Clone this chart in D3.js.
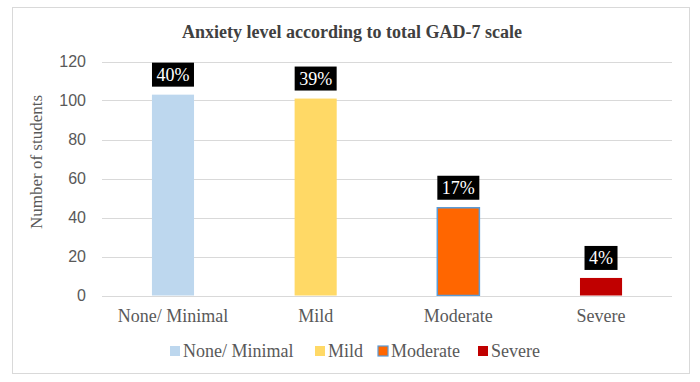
<!DOCTYPE html>
<html>
<head>
<meta charset="utf-8" />
<script src="https://d3js.org/d3.v7.min.js"></script>
<style>
  body { margin: 0; background: #fff; }
  svg { display: block; }
  .serif { font-family: "Liberation Serif", "Times New Roman", serif; }
  .sans { font-family: "Liberation Sans", Arial, sans-serif; }
</style>
</head>
<body>
<svg width="700" height="382"></svg>
<script>
// data
var categories = ["None/ Minimal", "Mild", "Moderate", "Severe"];
var students = [103, 101, 45, 9];
var percentLabels = ["40%", "39%", "17%", "4%"];
var barColors = ["#BDD7EE", "#FFD966", "#FF6600", "#C00000"];
var yTicks = [0, 20, 40, 60, 80, 100, 120];

var svg = d3.select("svg");

// outer frame
svg.append("rect")
    .attr("x", 12.5).attr("y", 7.5)
    .attr("width", 677).attr("height", 366)
    .attr("fill", "#fff")
    .attr("stroke", "#d9d9d9");

var margin = { left: 102, right: 672, top: 61.5, bottom: 295.5 };

var x = d3.scaleBand()
    .domain(categories)
    .range([margin.left, margin.right])
    .paddingInner(0.705)
    .paddingOuter(0.35);

var y = d3.scaleLinear()
    .domain([0, 120])
    .range([margin.bottom, margin.top]);

// title
svg.append("text")
    .attr("class", "serif")
    .attr("x", 352).attr("y", 38)
    .attr("text-anchor", "middle")
    .style("font-size", "18px")
    .style("font-weight", "bold")
    .attr("fill", "#404040")
    .text("Anxiety level according to total GAD-7 scale");

// gridlines
svg.append("g")
    .selectAll("line")
    .data(yTicks)
    .enter().append("line")
    .attr("x1", margin.left).attr("x2", margin.right)
    .attr("y1", function (d) { return Math.round(y(d)) + 0.5; })
    .attr("y2", function (d) { return Math.round(y(d)) + 0.5; })
    .attr("stroke", "#d9d9d9");

// y axis labels
var yAxis = svg.append("g")
    .attr("transform", "translate(" + (margin.left - 16) + ",0)")
    .call(d3.axisLeft(y).tickValues(yTicks).tickSize(0).tickPadding(0));
yAxis.select(".domain").remove();
yAxis.selectAll("text")
    .attr("class", "sans")
    .attr("font-family", null)
    .style("font-size", "16px")
    .attr("fill", "#595959");

// y axis title
svg.append("text")
    .attr("class", "serif")
    .attr("transform", "translate(42,162) rotate(-90)")
    .attr("text-anchor", "middle")
    .style("font-size", "17px")
    .attr("fill", "#595959")
    .text("Number of students");

// bars
var data = categories.map(function (c, i) {
    return { cat: c, value: students[i], pct: percentLabels[i], color: barColors[i] };
});

svg.append("g")
    .selectAll("rect")
    .data(data)
    .enter().append("rect")
    .attr("x", function (d) { return x(d.cat); })
    .attr("y", function (d) { return y(d.value); })
    .attr("width", x.bandwidth())
    .attr("height", function (d) { return y(0) - y(d.value); })
    .attr("fill", function (d) { return d.color; })
    .attr("stroke", function (d) { return d.cat === "Moderate" ? "#5B9BD5" : "none"; })
    .attr("stroke-width", 1.5);

// baseline
svg.append("line")
    .attr("x1", margin.left).attr("x2", margin.right)
    .attr("y1", Math.round(y(0)) + 0.5).attr("y2", Math.round(y(0)) + 0.5)
    .attr("stroke", "#d9d9d9");

// percentage labels
var labels = svg.append("g")
    .selectAll("g")
    .data(data)
    .enter().append("g");

labels.append("text")
    .attr("class", "serif")
    .attr("x", function (d) { return x(d.cat) + x.bandwidth() / 2; })
    .attr("y", function (d) { return y(d.value) - 14; })
    .attr("text-anchor", "middle")
    .style("font-size", "18px")
    .attr("fill", "#fff")
    .text(function (d) { return d.pct; });

labels.each(function (d) {
    var bb = d3.select(this).select("text").node().getBBox();
    d3.select(this).insert("rect", "text")
        .attr("x", bb.x - 4.5)
        .attr("y", y(d.value) - 32)
        .attr("width", bb.width + 9)
        .attr("height", 24)
        .attr("fill", "#000");
});

// x labels
svg.append("g")
    .selectAll("text")
    .data(categories)
    .enter().append("text")
    .attr("class", "serif")
    .attr("x", function (d) { return x(d) + x.bandwidth() / 2; })
    .attr("y", 322)
    .attr("text-anchor", "middle")
    .style("font-size", "18px")
    .attr("fill", "#595959")
    .text(function (d) { return d; });

// legend
var legendX = [170, 315, 378, 478];
var legend = svg.append("g")
    .selectAll("g")
    .data(data)
    .enter().append("g")
    .attr("transform", function (d, i) { return "translate(" + legendX[i] + ",346)"; });

legend.append("rect")
    .attr("width", 10).attr("height", 10)
    .attr("fill", function (d) { return d.color; })
    .attr("stroke", function (d) { return d.cat === "Moderate" ? "#5B9BD5" : "none"; })
    .attr("stroke-width", 1.2);

legend.append("text")
    .attr("class", "serif")
    .attr("x", 13).attr("y", 10.5)
    .style("font-size", "18px")
    .attr("fill", "#595959")
    .text(function (d) { return d.cat; });
</script>
</body>
</html>
